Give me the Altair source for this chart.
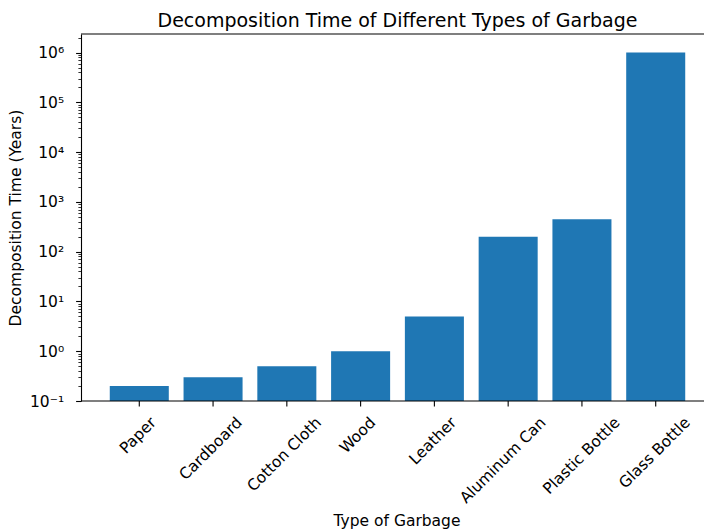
import altair as alt
import pandas as pd

# Decomposition time per garbage type (years)
garbage_types = ["Paper", "Cardboard", "Cotton Cloth", "Wood", "Leather",
                 "Aluminum Can", "Plastic Bottle", "Glass Bottle"]
decomposition_years = [0.2, 0.3, 0.5, 1, 5, 200, 450, 1000000]

# Log axis tick positions: decades plus 2..9 minor ticks
major_ticks = [10.0 ** k for k in range(-1, 7)]
minor_ticks = [m * 10.0 ** k for k in range(-1, 7) for m in range(2, 10)
               if m * 10.0 ** k <= 2.3e6]

df = pd.DataFrame({"type": garbage_types, "years": decomposition_years})

FONT = "DejaVu Sans"
W, H = 623, 367
BLUE = "#1f77b4"
LABEL_SIZE = 15.5
Y_MIN, Y_MAX = 0.1, 2.36e6

x_scale = alt.Scale(range=[0, 633], paddingInner=0.2, paddingOuter=0.39)
y_scale = alt.Scale(type="log", domain=[Y_MIN, Y_MAX], nice=False)
x_band = alt.X("type:N", sort=garbage_types, scale=x_scale, axis=None)

# "10" followed by a superscript exponent
exp = "round(log(datum.value) / LN10)"
y_label_expr = (
    f"'10' + ({exp} < 0 ? '\u207b' : '') + "
    f"substring('\u2070\u00b9\u00b2\u00b3\u2074\u2075\u2076\u2077\u2078\u2079', abs({exp}), abs({exp}) + 1)"
)

# Rough text width, so the rotated label's box ends up centred under its tick.
# dx/dy act in the rotated text frame, so a horizontal shift s is dx = dy = s / sqrt(2).
narrow = "regexp('[iltfrj ]', 'g')"
n_wide = f"length(replace(datum.type, {narrow}, ''))"
text_len = f"{LABEL_SIZE} * (0.63 * {n_wide} + 0.33 * (length(datum.type) - {n_wide}))"
label_shift = f"0.7071 * (0.354 * {text_len} - 1.5)"

y_axis = alt.Axis(
    title="Decomposition Time (Years)", orient="left",
    titleX=-61, titleY=H / 2, titleBaseline="alphabetic", titleAlign="center",
    values=major_ticks, labelExpr=y_label_expr,
    labelPadding=12, tickSize=5.4, tickWidth=1.1, domainWidth=1.1,
)

minor_axis = alt.Axis(
    title=None, orient="left", values=minor_ticks, labels=False,
    domain=False, tickSize=3.1, tickWidth=0.8,
)

# bars rise from the bottom of the log axis
bars = alt.Chart(df).mark_bar(color=BLUE).encode(
    x=x_band,
    y=alt.Y("years:Q", scale=y_scale, axis=y_axis),
    y2=alt.datum(Y_MIN),
)

minor = alt.Chart(df).mark_point(opacity=0).encode(
    x=x_band,
    y=alt.Y("years:Q", scale=y_scale, axis=minor_axis),
)

# x axis: ticks at the band centres
x_ticks = alt.Chart(df).mark_rule(color="black", strokeWidth=1.1).encode(
    x=x_band, y=alt.value(H), y2=alt.value(H + 5.4),
)

# rotated category labels under the x axis
x_labels = alt.Chart(df).mark_text(
    angle=315, align="right", baseline="middle",
    font=FONT, fontSize=LABEL_SIZE, color="black",
    dx=alt.ExprRef(expr=label_shift), dy=alt.ExprRef(expr=label_shift),
).encode(
    x=x_band,
    y=alt.value(H + 19),
    text="type:N",
)

x_title = alt.Chart(pd.DataFrame({"title": ["Type of Garbage"]})).mark_text(
    font=FONT, fontSize=LABEL_SIZE, color="black",
    align="center", baseline="alphabetic",
).encode(x=alt.value(316), y=alt.value(H + 125), text="title:N")

# frame lines along the top and bottom of the plot area
top_spine = alt.Chart(pd.DataFrame({"spine": ["top"]})).mark_rule(
    color="black", strokeWidth=1.1
).encode(x=alt.value(0), x2=alt.value(W), y=alt.value(0))

bottom_spine = alt.Chart(pd.DataFrame({"spine": ["bottom"]})).mark_rule(
    color="black", strokeWidth=1.1
).encode(x=alt.value(0), x2=alt.value(W), y=alt.value(H))

chart = (
    alt.layer(bars, minor, x_ticks, x_labels, x_title, top_spine, bottom_spine)
    .resolve_axis(y="independent")
    .properties(
        width=W, height=H,
        autosize=alt.AutoSizeParams(type="none"),
        padding={"left": 81, "top": 34, "right": 0, "bottom": 129},
        title=alt.TitleParams(
            text="Decomposition Time of Different Types of Garbage",
            font=FONT, fontSize=19, fontWeight="normal", color="black",
            anchor="middle", dx=5, dy=21, offset=8, baseline="alphabetic",
        ),
    )
    .configure_view(stroke=None)
    .configure_axis(
        grid=False, labelFont=FONT, labelFontSize=LABEL_SIZE, labelColor="black",
        titleFont=FONT, titleFontSize=LABEL_SIZE, titleFontWeight="normal",
        titleColor="black", tickColor="black", domainColor="black",
    )
)

chart.save("out.html", embed_options={"renderer": "svg", "actions": False})
